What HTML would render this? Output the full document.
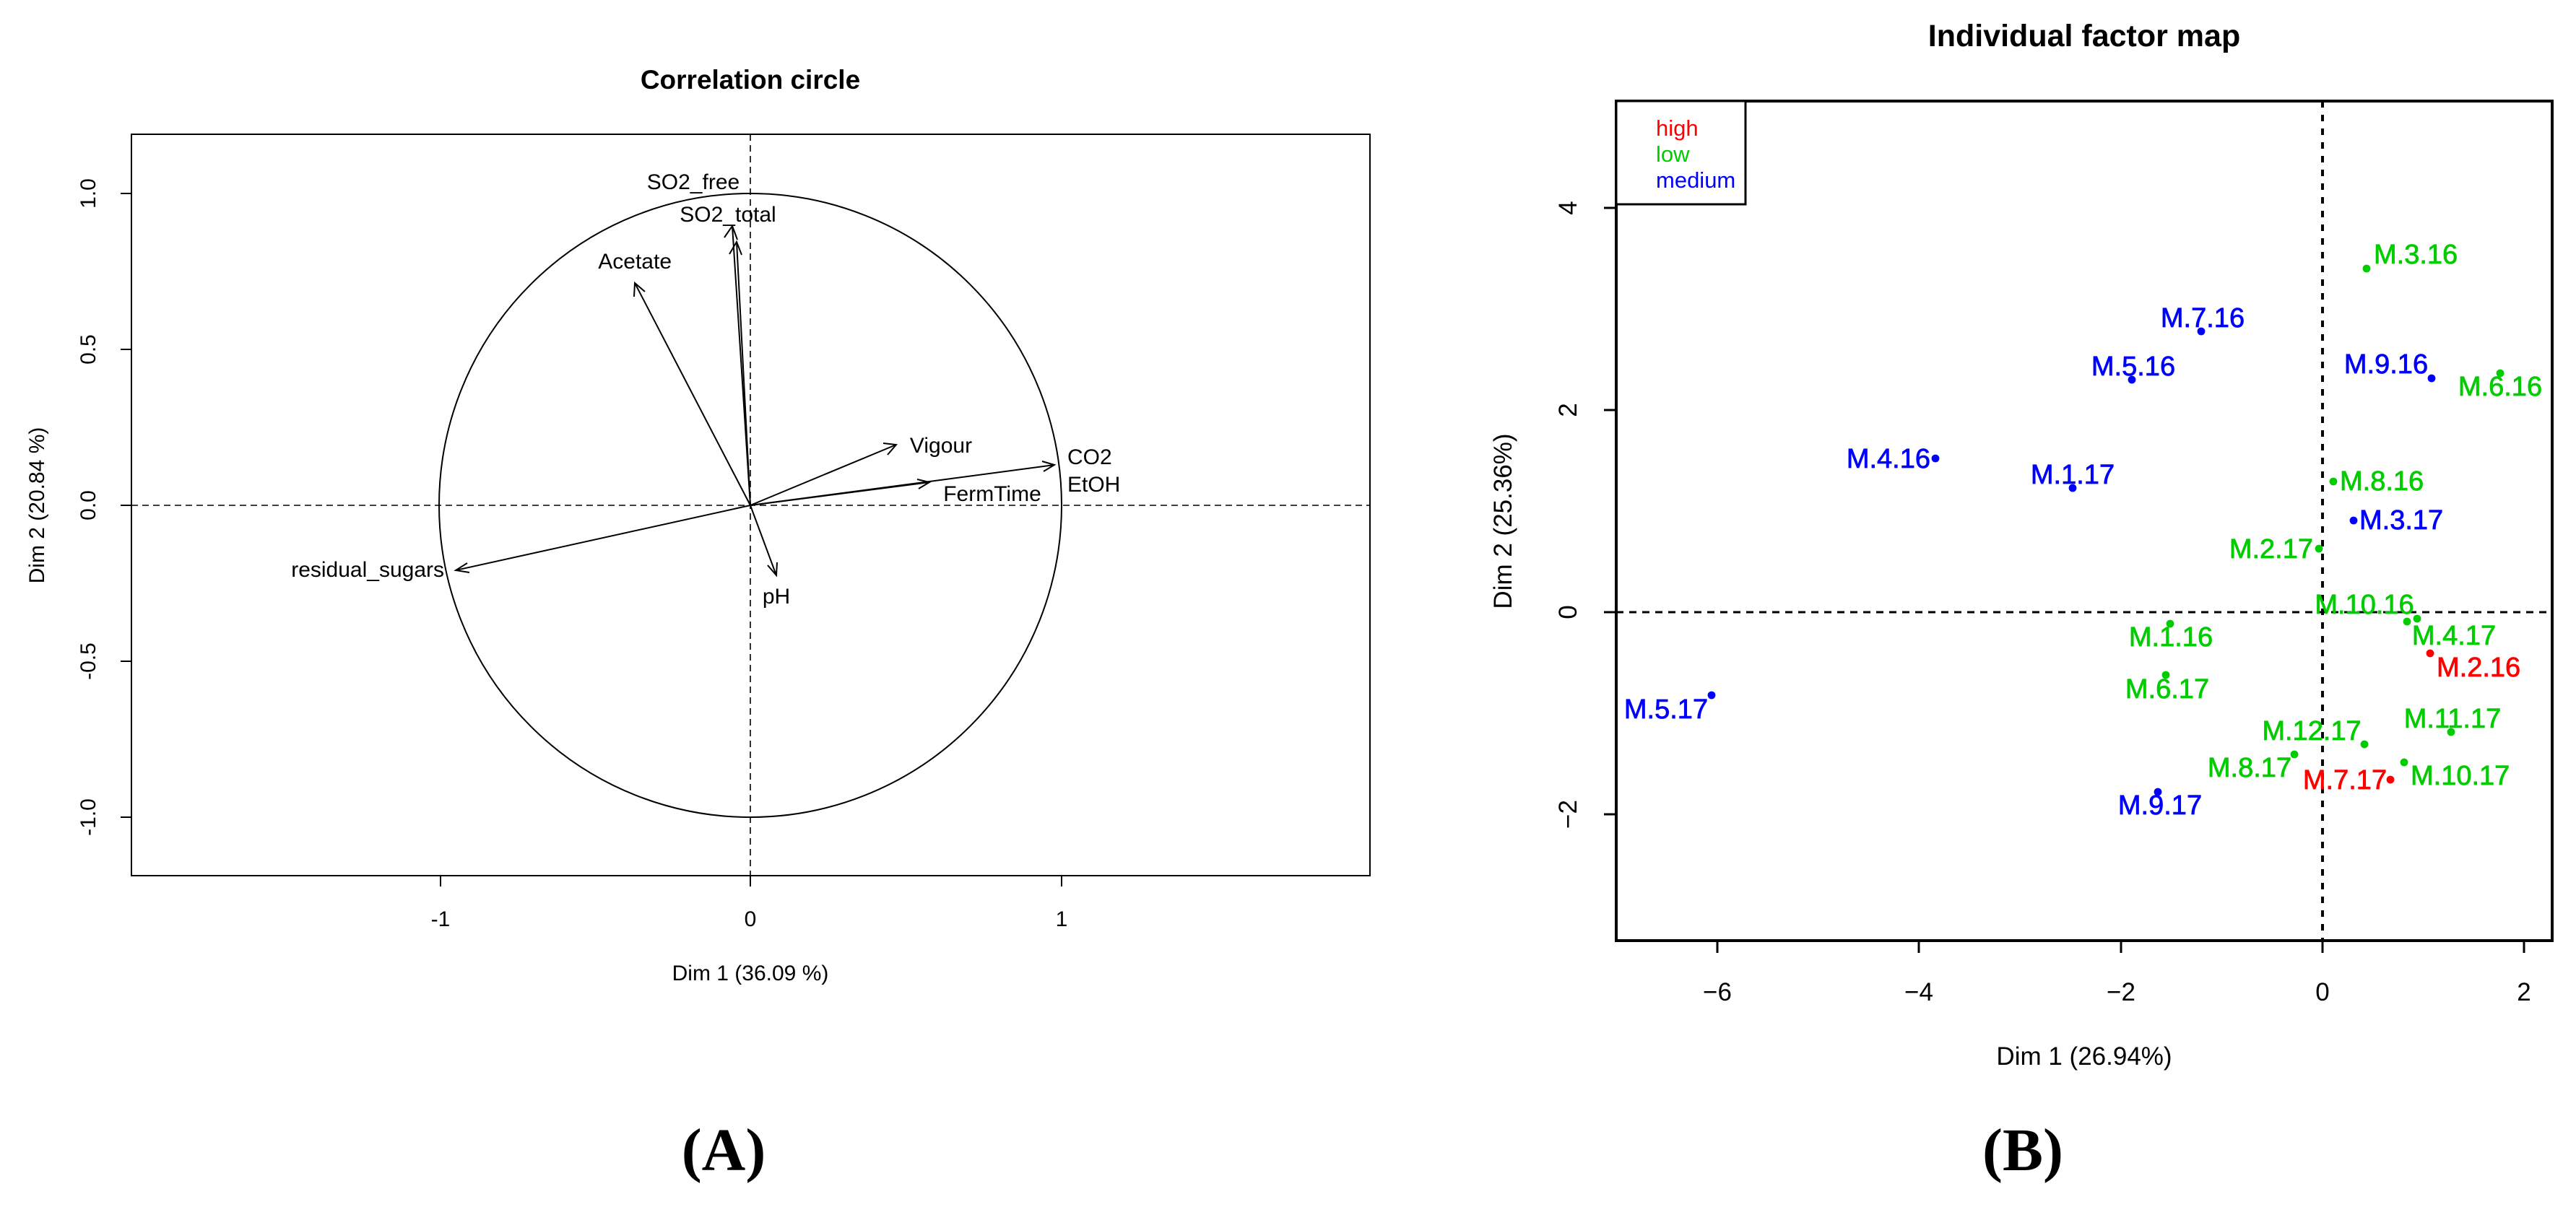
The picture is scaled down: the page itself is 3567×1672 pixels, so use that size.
<!DOCTYPE html>
<html><head><meta charset="utf-8"><style>
html,body{margin:0;padding:0;background:#fff;}
svg{display:block;}
text{font-family:"Liberation Sans",Arial,sans-serif;}
</style></head><body>
<svg width="3567" height="1672" viewBox="0 0 3567 1672" xmlns="http://www.w3.org/2000/svg">
<rect width="3567" height="1672" fill="#fff"/>
<!-- Panel A -->
<text x="1039" y="123" font-size="37" font-weight="bold" text-anchor="middle">Correlation circle</text>
<rect x="182" y="186" width="1715" height="1027" fill="none" stroke="#000" stroke-width="2"/>
<line x1="182" y1="700" x2="1897" y2="700" stroke="#000" stroke-width="1.6" stroke-dasharray="9,6"/>
<line x1="1039" y1="186" x2="1039" y2="1213" stroke="#000" stroke-width="1.6" stroke-dasharray="9,6"/>
<ellipse cx="1039" cy="700" rx="431" ry="432" fill="none" stroke="#000" stroke-width="2"/>
<g stroke="#000" stroke-width="2">
<line x1="610" y1="1213" x2="610" y2="1228"/><line x1="1039" y1="1213" x2="1039" y2="1228"/><line x1="1470" y1="1213" x2="1470" y2="1228"/>
<line x1="167" y1="268" x2="182" y2="268"/><line x1="167" y1="484" x2="182" y2="484"/><line x1="167" y1="700" x2="182" y2="700"/><line x1="167" y1="916" x2="182" y2="916"/><line x1="167" y1="1132" x2="182" y2="1132"/>
</g>
<g font-size="30" text-anchor="middle">
<text x="610" y="1283">-1</text><text x="1039" y="1283">0</text><text x="1470" y="1283">1</text>
<text transform="translate(132,268) rotate(-90)">1.0</text>
<text transform="translate(132,484) rotate(-90)">0.5</text>
<text transform="translate(132,700) rotate(-90)">0.0</text>
<text transform="translate(132,916) rotate(-90)">-0.5</text>
<text transform="translate(132,1132) rotate(-90)">-1.0</text>
<text x="1039" y="1358">Dim 1 (36.09 %)</text>
<text transform="translate(61,700) rotate(-90)">Dim 2 (20.84 %)</text>
</g>
<g stroke="#000" stroke-width="2" fill="none">
<path d="M1039 700 L1014 313 M1003 329 L1014 313 L1021 332"/>
<path d="M1039 700 L1020 335 M1010 352 L1020 335 L1027 353"/>
<path d="M1039 700 L879 392 M878 411 L879 392 L893 404"/>
<path d="M1039 700 L1241 616 M1223 614 L1241 616 L1229 630"/>
<path d="M1039 700 L1460 644 M1443 639 L1460 644 L1445 653"/>
<path d="M1039 700 L1287 668 M1270 664 L1287 668 L1272 677"/>
<path d="M1039 700 L631 790 M647 780 L631 790 L650 793"/>
<path d="M1039 700 L1075 797 M1063 783 L1075 797 L1076 779"/>
</g>
<g font-size="30">
<text x="960" y="262" text-anchor="middle">SO2_free</text>
<text x="1008" y="307" text-anchor="middle">SO2_total</text>
<text x="930" y="372" text-anchor="end">Acetate</text>
<text x="1303" y="627" text-anchor="middle">Vigour</text>
<text x="1478" y="643">CO2</text>
<text x="1478" y="681">EtOH</text>
<text x="1374" y="694" text-anchor="middle">FermTime</text>
<text x="615" y="799" text-anchor="end">residual_sugars</text>
<text x="1075" y="836" text-anchor="middle">pH</text>
</g>
<text x="1002" y="1621" font-size="84" font-weight="bold" text-anchor="middle" style="font-family:'Liberation Serif',serif">(A)</text>

<!-- Panel B -->
<text x="2886" y="64" font-size="43" font-weight="bold" text-anchor="middle">Individual factor map</text>
<rect x="2238" y="140" width="1296" height="1163" fill="none" stroke="#000" stroke-width="4"/>
<line x1="2238" y1="848" x2="3534" y2="848" stroke="#000" stroke-width="3" stroke-dasharray="10,8"/>
<line x1="3216" y1="140" x2="3216" y2="1303" stroke="#000" stroke-width="4" stroke-dasharray="9,10"/>
<rect x="2238" y="140" width="179" height="143" fill="#fff" stroke="#000" stroke-width="3"/>
<g font-size="31">
<text x="2293" y="188" fill="#ff0000">high</text>
<text x="2293" y="224" fill="#00cc00">low</text>
<text x="2293" y="260" fill="#0000ff">medium</text>
</g>
<g stroke="#000" stroke-width="3">
<line x1="2378" y1="1303" x2="2378" y2="1320"/><line x1="2657" y1="1303" x2="2657" y2="1320"/><line x1="2937" y1="1303" x2="2937" y2="1320"/><line x1="3216" y1="1303" x2="3216" y2="1320"/><line x1="3495" y1="1303" x2="3495" y2="1320"/>
<line x1="2221" y1="288" x2="2238" y2="288"/><line x1="2221" y1="568" x2="2238" y2="568"/><line x1="2221" y1="848" x2="2238" y2="848"/><line x1="2221" y1="1128" x2="2238" y2="1128"/>
</g>
<g font-size="35" text-anchor="middle">
<text x="2378" y="1386">−6</text><text x="2657" y="1386">−4</text><text x="2937" y="1386">−2</text><text x="3216" y="1386">0</text><text x="3495" y="1386">2</text>
<text transform="translate(2183,288) rotate(-90)">4</text>
<text transform="translate(2183,568) rotate(-90)">2</text>
<text transform="translate(2183,848) rotate(-90)">0</text>
<text transform="translate(2183,1128) rotate(-90)">−2</text>
<text x="2886" y="1475">Dim 1 (26.94%)</text>
<text transform="translate(2093,722) rotate(-90)">Dim 2 (25.36%)</text>
</g>
<g font-size="38" stroke-width="0.8">
<g fill="#0000ff" stroke="#0000ff">
<circle cx="3048" cy="459" r="5"/><text x="3050" y="453" text-anchor="middle">M.7.16</text>
<circle cx="2952" cy="526" r="5"/><text x="2954" y="520" text-anchor="middle">M.5.16</text>
<circle cx="3367" cy="524" r="5"/><text x="3304" y="517" text-anchor="middle">M.9.16</text>
<circle cx="3259" cy="721" r="5"/><text x="3267" y="733">M.3.17</text>
<circle cx="2680" cy="635" r="5"/><text x="2673" y="648" text-anchor="end">M.4.16</text>
<circle cx="2870" cy="676" r="5"/><text x="2870" y="670" text-anchor="middle">M.1.17</text>
<circle cx="2370" cy="963" r="5"/><text x="2307" y="995" text-anchor="middle">M.5.17</text>
<circle cx="2988" cy="1097" r="5"/><text x="2991" y="1128" text-anchor="middle">M.9.17</text>
</g>
<g fill="#00cc00" stroke="#00cc00">
<circle cx="3277" cy="372" r="5"/><text x="3287" y="365">M.3.16</text>
<circle cx="3462" cy="517" r="5"/><text x="3462" y="548" text-anchor="middle">M.6.16</text>
<circle cx="3231" cy="667" r="5"/><text x="3240" y="679">M.8.16</text>
<circle cx="3211" cy="760" r="5"/><text x="3203" y="773" text-anchor="end">M.2.17</text>
<circle cx="3333" cy="861" r="5"/><text x="3274" y="850" text-anchor="middle">M.10.16</text>
<circle cx="3347" cy="857" r="5"/><text x="3398" y="893" text-anchor="middle">M.4.17</text>
<circle cx="3005" cy="864" r="5"/><text x="3006" y="895" text-anchor="middle">M.1.16</text>
<circle cx="2999" cy="935" r="5"/><text x="3001" y="967" text-anchor="middle">M.6.17</text>
<circle cx="3274" cy="1031" r="5"/><text x="3201" y="1025" text-anchor="middle">M.12.17</text>
<circle cx="3394" cy="1014" r="5"/><text x="3396" y="1008" text-anchor="middle">M.11.17</text>
<circle cx="3177" cy="1045" r="5"/><text x="3115" y="1076" text-anchor="middle">M.8.17</text>
<circle cx="3329" cy="1056" r="5"/><text x="3338" y="1087">M.10.17</text>
</g>
<g fill="#ff0000" stroke="#ff0000">
<circle cx="3365" cy="905" r="5"/><text x="3374" y="937">M.2.16</text>
<circle cx="3310" cy="1080" r="5"/><text x="3247" y="1093" text-anchor="middle">M.7.17</text>
</g>
</g>
<text x="2801" y="1621" font-size="84" font-weight="bold" text-anchor="middle" style="font-family:'Liberation Serif',serif">(B)</text>
</svg>
</body></html>
